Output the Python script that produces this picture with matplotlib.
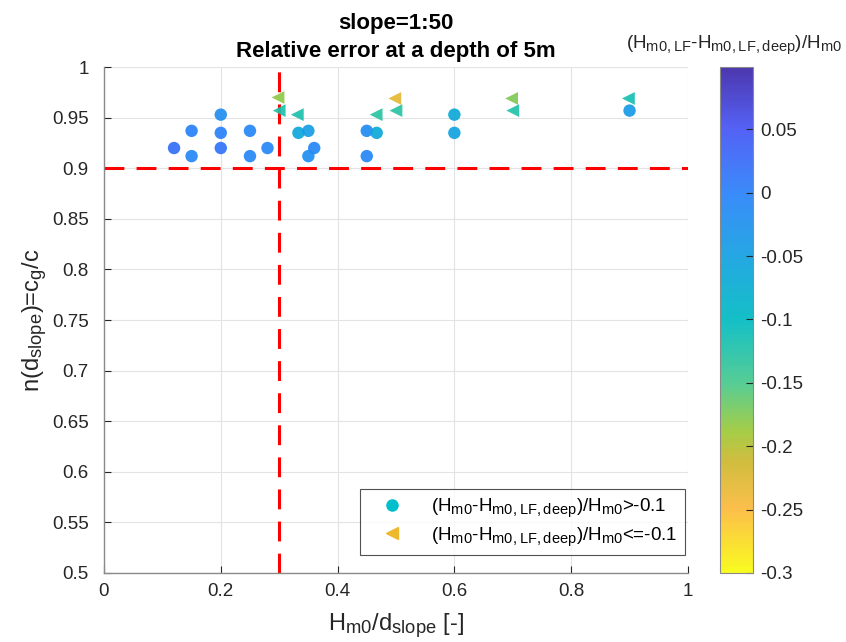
import numpy as np
import matplotlib
matplotlib.use('Agg')
import matplotlib.pyplot as plt
import matplotlib._mathtext as mathtext_internal
from matplotlib.colors import LinearSegmentedColormap, Normalize
from matplotlib.lines import Line2D

plt.rcParams['font.family'] = ['Liberation Sans', 'DejaVu Sans']
plt.rcParams['mathtext.default'] = 'regular'
# MATLAB's TeX interpreter draws subscripts a bit larger than mathtext does
mathtext_internal.SHRINK_FACTOR = 0.78

# Points with relative error > -0.1 (circles)
x_circ = [0.12, 0.15, 0.15, 0.2, 0.2, 0.2, 0.25, 0.25, 0.28, 0.333,
          0.35, 0.36, 0.35, 0.45, 0.467, 0.45, 0.6, 0.6, 0.9]
y_circ = [0.92, 0.937, 0.912, 0.953, 0.935, 0.92, 0.937, 0.912, 0.92, 0.935,
          0.937, 0.92, 0.912, 0.937, 0.935, 0.912, 0.953, 0.935, 0.957]
c_circ = [0.02, 0.0, -0.01, -0.02, 0.0, 0.015, -0.01, -0.01, -0.01, -0.06,
          -0.045, -0.01, -0.02, -0.015, -0.065, -0.01, -0.065, -0.055, -0.04]

# Points with relative error <= -0.1 (triangles)
x_tri = [0.298, 0.3, 0.331, 0.466, 0.498, 0.5, 0.698, 0.7, 0.898]
y_tri = [0.97, 0.957, 0.953, 0.953, 0.969, 0.957, 0.969, 0.957, 0.969]
c_tri = [-0.18, -0.12, -0.12, -0.13, -0.23, -0.13, -0.175, -0.125, -0.115]

# Threshold lines
x_limit = 0.3
y_limit = 0.9
c_min, c_max = -0.3, 0.099

# Flipped parula-like colormap
parula = LinearSegmentedColormap.from_list('parula', [
    (0.00, (0.2422, 0.1504, 0.6603)),
    (0.12, (0.27, 0.33, 0.96)),
    (0.25, (0.16, 0.51, 0.98)),
    (0.375, (0.07, 0.63, 0.88)),
    (0.50, (0.00, 0.73, 0.76)),
    (0.625, (0.28, 0.79, 0.55)),
    (0.72, (0.62, 0.79, 0.22)),
    (0.78, (0.80, 0.72, 0.18)),
    (0.875, (0.99, 0.73, 0.23)),
    (1.00, (0.9763, 0.9831, 0.0538)),
])
cmap = parula.reversed()
norm = Normalize(c_min, c_max)

fig = plt.figure(figsize=(8.46, 6.42), dpi=100)
ax = fig.add_axes([0.1229, 0.1075, 0.6903, 0.788])

ax.axhline(y_limit, color='red', lw=2.2, ls=(0, (6.5, 4)), zorder=2)
ax.axvline(x_limit, color='red', lw=2.2, ls=(0, (6.5, 4)), zorder=2)

sc = ax.scatter(x_circ, y_circ, c=c_circ, cmap=cmap, norm=norm, s=80,
                marker='o', edgecolors='none', alpha=0.92, zorder=3)
ax.scatter(x_tri, y_tri, c=c_tri, cmap=cmap, norm=norm, s=85,
           marker='<', edgecolors='none', alpha=0.92, zorder=3)

ax.set_xlim(0, 1)
ax.set_ylim(0.5, 1)
ax.set_xticks(np.arange(0, 1.01, 0.2))
ax.set_yticks(np.arange(0.5, 1.001, 0.05))
ax.set_xticklabels(['0', '0.2', '0.4', '0.6', '0.8', '1'])
ax.set_yticklabels(['0.5', '0.55', '0.6', '0.65', '0.7', '0.75', '0.8',
                    '0.85', '0.9', '0.95', '1'])
ax.grid(True, color='#e3e3e3', lw=0.8)
ax.set_axisbelow(True)
for s in ['top', 'right']:
    ax.spines[s].set_visible(False)
for s in ['left', 'bottom']:
    ax.spines[s].set_color('#8a8a8a')
    ax.spines[s].set_linewidth(1.0)
ax.tick_params(direction='in', length=5, color='#262626', labelsize=13.5,
               labelcolor='#262626')
ax.tick_params(axis='x', pad=7)
ax.tick_params(axis='y', pad=11)

ax.set_xlabel('H$_{m0}$/d$_{slope}$ [-]', fontsize=17, color='#262626', va='baseline')
ax.xaxis.set_label_coords(0.5, -0.112)
ax.set_ylabel('n(d$_{slope}$)=c$_g$/c', fontsize=17, color='#262626', labelpad=2)
ax.set_title('slope=1:50\nRelative error at a depth of 5m', fontsize=16,
             fontweight='bold', linespacing=1.45, pad=7)

handles = [
    Line2D([], [], marker='o', ls='none', color=(0.0, 0.75, 0.8), markersize=8),
    Line2D([], [], marker='<', ls='none', color=(0.93, 0.72, 0.17), markersize=8),
]
labels = ['(H$_{m0}$-H$_{m0,LF,deep}$)/H$_{m0}$>-0.1',
          '(H$_{m0}$-H$_{m0,LF,deep}$)/H$_{m0}$<=-0.1']
leg = ax.legend(handles, labels, loc='lower right', fontsize=13.5, frameon=True,
                fancybox=False, edgecolor='#262626', borderpad=0.4,
                handletextpad=0.8, handlelength=2.6, labelspacing=0.3,
                bbox_to_anchor=(0.995, 0.035), borderaxespad=0)
leg.get_frame().set_linewidth(0.8)

cax = fig.add_axes([0.851, 0.1075, 0.039, 0.788])
cb = fig.colorbar(sc, cax=cax)
cb.solids.set_alpha(0.92)
cb.set_ticks([0.05, 0, -0.05, -0.1, -0.15, -0.2, -0.25, -0.3])
cb.set_ticklabels(['0.05', '0', '-0.05', '-0.1', '-0.15', '-0.2', '-0.25', '-0.3'])
cb.ax.tick_params(direction='in', length=5, color='#262626', labelsize=13.5,
                  labelcolor='#262626', pad=5)
cb.outline.set_edgecolor('#8a8a8a')
fig.text(0.868, 1 - 48 / 642, '(H$_{m0,LF}$-H$_{m0,LF,deep}$)/H$_{m0}$', ha='center',
         va='baseline', fontsize=13.5, color='#262626')

fig.savefig('out.png', dpi=100)
